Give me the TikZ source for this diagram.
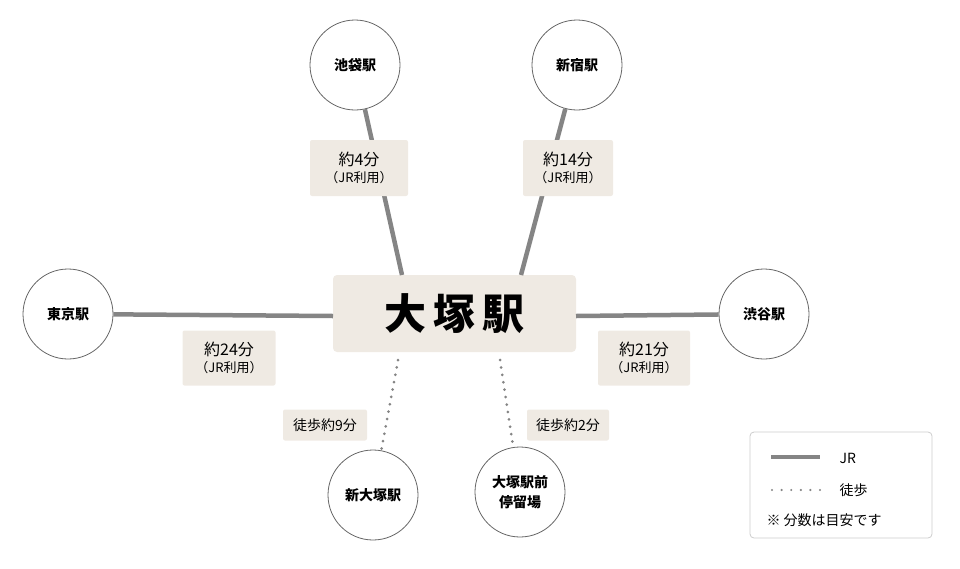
\documentclass[tikz,border=0pt]{standalone}
\usepackage{fontspec}
\setmainfont{Noto Sans CJK JP}
\begin{document}
\begin{tikzpicture}[x=1pt,y=-1pt,
  st/.style={circle,draw=black!60,line width=0.8pt,fill=white,minimum size=90pt,inner sep=0pt,font=\fontsize{14}{18}\selectfont\bfseries,align=center},
  lbl/.style={fill=beige,rounded corners=2pt,align=center,inner sep=0pt,font=\fontsize{16}{18}\selectfont},
  jr/.style={draw=jrgray,line width=4.5pt},
  walk/.style={draw=jrgray,line width=3pt,line cap=round,dash pattern=on 0pt off 7.5pt}]
\definecolor{beige}{HTML}{EFEAE3}
\definecolor{jrgray}{HTML}{858585}
\useasboundingbox (0,0) rectangle (960,568);
\node[fill=beige,rounded corners=4pt,minimum width=243pt,minimum height=77pt,font=\fontsize{42}{46}\selectfont\bfseries] (c) at (454.5,313.5) {大\,塚\,駅};
\node[st] (ike) at (355,65) {池袋駅};
\node[st] (shj) at (577,65) {新宿駅};
\node[st] (tok) at (68,314) {東京駅};
\node[st] (shb) at (764,314) {渋谷駅};
\node[st] (sho) at (373,495) {新大塚駅};
\node[st,font=\fontsize{14}{20}\selectfont\bfseries] (mae) at (520,492) {大塚駅前\\停留場};
\coordinate (c1) at (402,275); \coordinate (c2) at (521,275);
\coordinate (c3) at (333,316); \coordinate (c4) at (576,316);
\coordinate (c5) at (398,360); \coordinate (c6) at (500,360);
\draw[jr] (ike) -- (c1);
\draw[jr] (shj) -- (c2);
\draw[jr] (tok) -- (c3);
\draw[jr] (shb) -- (c4);
\draw[walk] (c5) -- (sho);
\draw[walk] (c6) -- (mae);
\node[lbl,minimum width=98pt,minimum height=56pt] (l1) at (359,168) {約4分\\[-1pt]{\fontsize{13}{15}\selectfont（JR利用）}};
\node[lbl,minimum width=90pt,minimum height=56pt] (l2) at (568,168) {約14分\\[-1pt]{\fontsize{13}{15}\selectfont（JR利用）}};
\node[lbl,minimum width=93pt,minimum height=55pt] (l3) at (229,358) {約24分\\[-1pt]{\fontsize{13}{15}\selectfont（JR利用）}};
\node[lbl,minimum width=92pt,minimum height=55pt] (l4) at (644,358) {約21分\\[-1pt]{\fontsize{13}{15}\selectfont（JR利用）}};
\node[lbl,minimum width=84pt,minimum height=31pt,font=\fontsize{14}{16}\selectfont] (l5) at (325,425) {徒歩約9分};
\node[lbl,minimum width=82pt,minimum height=31pt,font=\fontsize{14}{16}\selectfont] (l6) at (568,425) {徒歩約2分};
\node[draw=black!20,line width=0.8pt,rounded corners=4pt,minimum width=182pt,minimum height=106pt] (leg) at (841,485) {};
\coordinate (a1) at (771,457); \coordinate (a2) at (820,457);
\coordinate (b1) at (772,490); \coordinate (b2) at (820,490);
\draw[jr] (a1) -- (a2);
\draw[walk,line width=2.4pt,dash pattern=on 0pt off 9.6pt] (b1) -- (b2);
\node[anchor=west,font=\fontsize{14}{16}\selectfont] (t1) at (836,458) {JR};
\node[anchor=west,font=\fontsize{14}{16}\selectfont] (t2) at (836,490) {徒歩};
\node[anchor=west,font=\fontsize{14}{16}\selectfont] (t3) at (763,520) {※ 分数は目安です};
\end{tikzpicture}
\end{document}
